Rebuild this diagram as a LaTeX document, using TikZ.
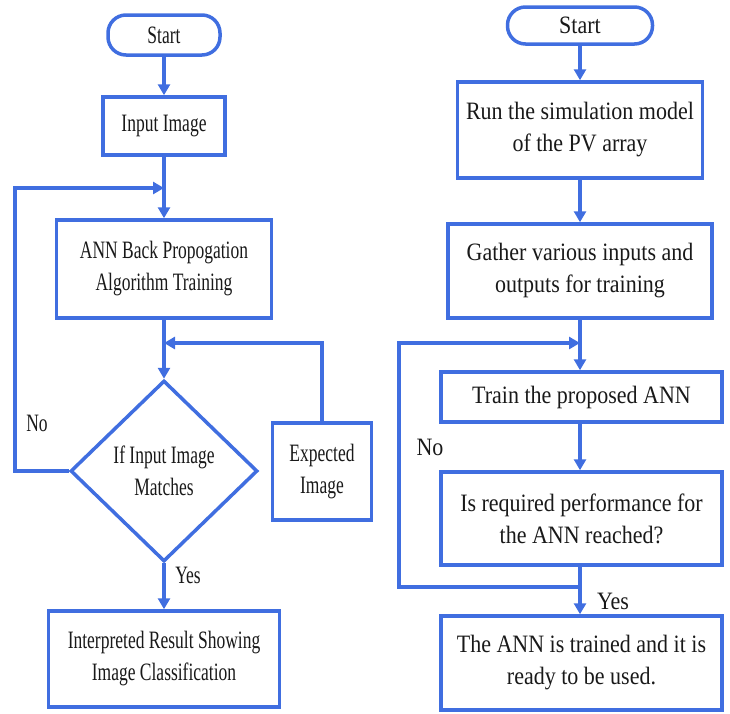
\documentclass[tikz,border=0pt]{standalone}
\usepackage{fontspec}
\setmainfont{Liberation Serif}
\newfontfamily\lfont{Liberation Serif}[FakeStretch=0.70]
\newfontfamily\rfont{Liberation Serif}[FakeStretch=0.88]
\usetikzlibrary{arrows.meta,shapes.geometric}
\definecolor{fblue}{RGB}{64,110,224}
\tikzset{
  flow/.style={draw=fblue,line width=3.5pt,inner sep=0pt,align=center,text=black!90},
  box/.style={flow,rectangle},
  term/.style={flow,rectangle,rounded corners=18pt},
  dec/.style={flow,diamond},
  lt/.style={font=\lfont\fontsize{25}{32}\selectfont},
  rt/.style={font=\rfont\fontsize{25}{32}\selectfont},
  conn/.style={draw=fblue,line width=3.5pt},
  arr/.style={conn,-{Triangle[length=11pt,width=12pt]}},
  lbl/.style={inner sep=0pt,text=black!90}
}
\begin{document}
\begin{tikzpicture}[x=1pt,y=-1pt]
\useasboundingbox (0,0) rectangle (730,713);
% ---------- left flowchart ----------
\node[term,lt,minimum width=112pt,minimum height=40pt] (ls) at (164,35) {Start};
\node[box,lt,minimum width=122pt,minimum height=58pt] (li) at (164,126) {Input Image};
\node[box,lt,minimum width=215pt,minimum height=98pt] (la) at (164,269) {ANN Back Propogation\\Algorithm Training};
\node[dec,lt,minimum width=187pt,minimum height=181pt] (ld) at (164,471) {If Input Image\\Matches};
\node[box,lt,minimum width=99pt,minimum height=97pt] (le) at (322,471.5) {Expected\\Image};
\node[box,lt,minimum width=231pt,minimum height=96pt] (lr) at (164,659) {Interpreted Result Showing\\Image Classification};
\coordinate (lj1) at (164,188);
\coordinate (lj2) at (164,343);
\coordinate (lc1) at (15,471);
\coordinate (lc2) at (15,188);
\coordinate (lc3) at (322,343);
\draw[arr] (ls.south) -- (li.north);
\draw[arr] (li.south) -- (la.north);
\draw[arr] (la.south) -- (ld.north);
\draw[arr] (ld.west) -- (lc1) -- (lc2) -- (lj1);
\draw[arr] (le.north) -- (lc3) -- (lj2);
\draw[arr] (ld.south) -- (lr.north);
\node[lbl,lt] (lno) at (37,423) {No};
\node[lbl,lt] (lyes) at (188,575) {Yes};
% ---------- right flowchart ----------
\node[term,rt,minimum width=145pt,minimum height=37pt] (rs) at (580,25.5) {Start};
\node[box,rt,minimum width=245pt,minimum height=96pt] (rr) at (580,130) {Run the simulation model\\of the PV array};
\node[box,rt,minimum width=264pt,minimum height=94pt] (rg) at (580,271) {Gather various inputs and\\outputs for training};
\node[box,rt,minimum width=281pt,minimum height=50pt] (rtr) at (581.5,397) {Train the proposed ANN};
\node[box,rt,minimum width=281pt,minimum height=93pt] (rq) at (581.5,518.5) {Is required performance for\\the ANN reached?};
\node[box,rt,minimum width=281pt,minimum height=94pt] (ra) at (581.5,663) {The ANN is trained and it is\\ready to be used.};
\coordinate (rj1) at (580,343);
\coordinate (rj2) at (580,587);
\coordinate (rc1) at (399,587);
\coordinate (rc2) at (399,343);
\draw[arr] (rs.south) -- (rr.north);
\draw[arr] (rr.south) -- (rg.north);
\draw[arr] (rg.south) -- (rg.south |- rtr.north);
\draw[arr] (rtr.south -| rg.south) -- (rq.north -| rg.south);
\draw[arr] (rq.south -| rg.south) -- (ra.north -| rg.south);
\draw[arr] (rj2) -- (rc1) -- (rc2) -- (rj1);
\node[lbl,rt] (rno) at (430,447) {No};
\node[lbl,rt] (ryes) at (613,601) {Yes};
\end{tikzpicture}
\end{document}
